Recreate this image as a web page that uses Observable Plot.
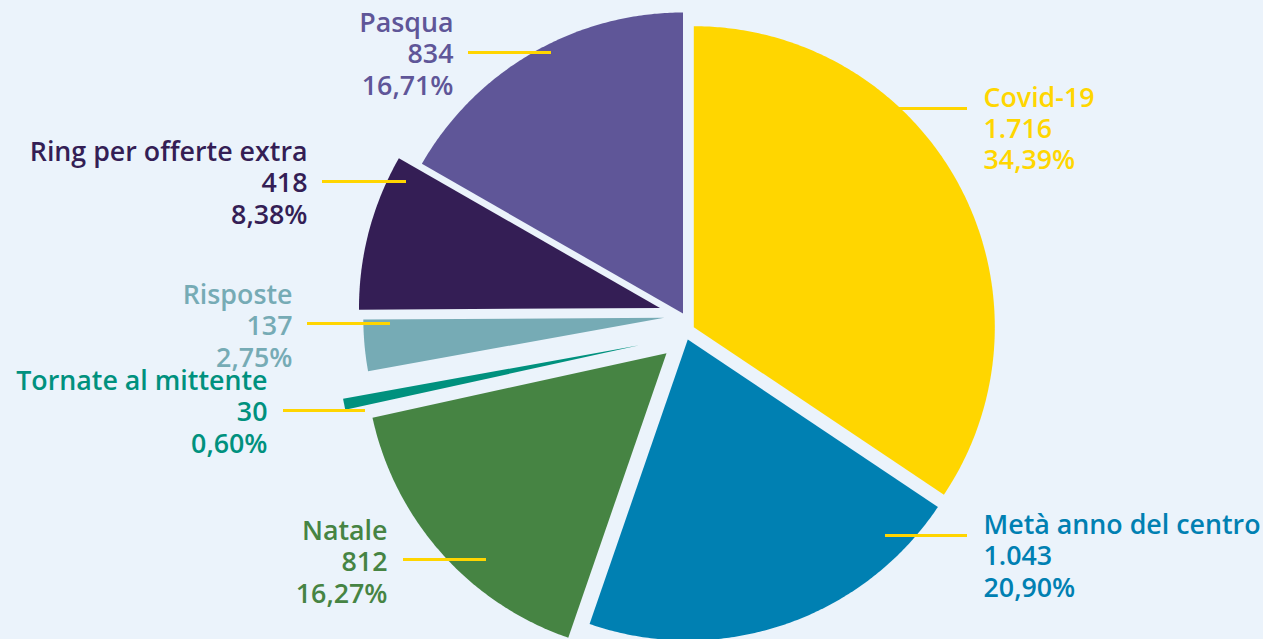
<!DOCTYPE html>
<html><head><meta charset="utf-8">
<script src="https://cdn.jsdelivr.net/npm/d3@7"></script>
<script src="https://cdn.jsdelivr.net/npm/@observablehq/plot@0.6"></script>
<style>
html,body{margin:0;padding:0;background:#EBF3FB;}
#chart svg{display:block;}
</style></head><body><div id="chart"></div>
<script>
// ---- data ----
const categories = ["Covid-19", "Metà anno del centro", "Natale", "Tornate al mittente", "Risposte", "Ring per offerte extra", "Pasqua"];
const values = [1716, 1043, 812, 30, 137, 418, 834];

// ---- style / layout ----
const colors = ["#FFD600", "#0080B2", "#468443", "#00917E", "#76ABB5", "#341E55", "#5F5698"];
const W = 1263, H = 639;
const pieCenter = [680, 328];
const radius = 301;
const explode = [[13.3, -1.3], [7.3, 11], [-14, 24.7], [-41.2, 16.8], [-16.2, -10.7], [-20.5, -20.5], [2.5, -15]];
const labelPos = [[983, 127.5, "start"], [983, 555, "start"], [387, 561, "end"], [267, 411, "end"], [292, 325, "end"], [307, 182, "end"], [453, 53, "end"]];
const leaderPos = [[890, 967, 108], [885, 967, 535], [403, 486, 559], [283, 365, 410], [307, 390, 323], [322, 406, 181], [468, 551, 52]];

const it = d3.formatLocale({decimal: ",", thousands: ".", grouping: [3], currency: ["", "€"]});
const fmtInt = it.format(",d");
const fmtPct = it.format(".2f");
const total = d3.sum(values);

const arcs = d3.pie().sort(null).startAngle(0).endAngle(2 * Math.PI)(values);
const slicePts = [];
arcs.forEach((a, i) => {
  const cx = pieCenter[0] + explode[i][0], cy = pieCenter[1] + explode[i][1];
  const cat = categories[i];
  slicePts.push({x: cx, y: cy, cat});
  const n = Math.max(2, Math.ceil((a.endAngle - a.startAngle) / (Math.PI / 360)));
  for (let k = 0; k <= n; k++) {
    const t = a.startAngle + (a.endAngle - a.startAngle) * k / n;
    slicePts.push({x: cx + radius * Math.sin(t), y: cy - radius * Math.cos(t), cat});
  }
});

const labels = categories.map((c, i) => ({
  cat: c,
  x: labelPos[i][0], y: labelPos[i][1], side: labelPos[i][2],
  text: `${c}\n${fmtInt(values[i])}\n${fmtPct(values[i] / total * 100)}%`
}));
const leaders = categories.map((c, i) => ({cat: c, x1: leaderPos[i][0], x2: leaderPos[i][1], y: leaderPos[i][2]}));

const textOpts = {x: "x", y: "y", text: "text", fill: "cat", lineAnchor: "middle", lineHeight: 1.16,
  fontSize: 26.8, fontWeight: 600, fontFamily: "'Open Sans'"};

const chart = Plot.plot({
  width: W, height: H,
  margin: 0,
  style: {background: "#EBF3FB", fontFamily: "'Open Sans'"},
  x: {domain: [0, W], range: [0, W], axis: null},
  y: {domain: [0, H], range: [0, H], axis: null},
  color: {domain: categories, range: colors},
  marks: [
    Plot.line(slicePts, {x: "x", y: "y", z: "cat", fill: "cat", stroke: "none", curve: "linear-closed"}),
    Plot.ruleY(leaders, {y: "y", x1: "x1", x2: "x2", stroke: "#FFD500", strokeWidth: 3}),
    Plot.text(labels.filter(d => d.side === "start"), {...textOpts, textAnchor: "start"}),
    Plot.text(labels.filter(d => d.side === "end"), {...textOpts, textAnchor: "end"})
  ]
});
document.getElementById("chart").appendChild(chart);
</script>
</body></html>
